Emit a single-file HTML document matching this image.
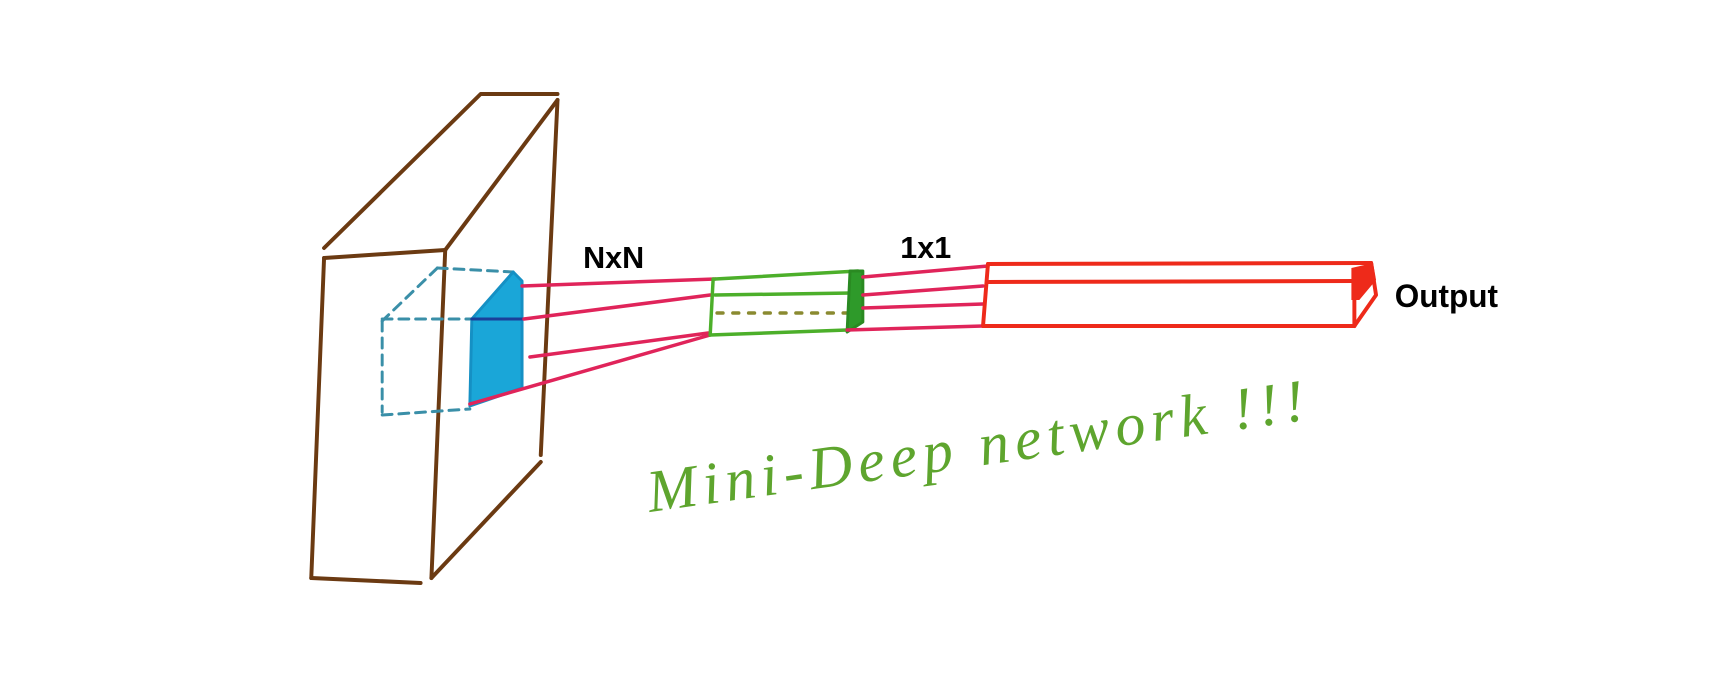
<!DOCTYPE html>
<html><head><meta charset="utf-8"><style>
html,body{margin:0;padding:0;background:#fff;}
svg{display:block}
</style></head><body>
<svg width="1719" height="692" viewBox="0 0 1719 692" xmlns="http://www.w3.org/2000/svg">
<g transform="scale(0.985,1)">
<g fill="none" stroke-linecap="round" stroke-linejoin="round">
<g stroke="#6b3a12" stroke-width="4">
<path d="M329,258 L452,250"/>
<path d="M329,258 L316,578"/>
<path d="M316,578 L427,583"/>
<path d="M452,250 L438,578"/>
<path d="M329,248 L488,94 L566,94"/>
<path d="M452,250 L566,100"/>
<path d="M566,100 L549,455"/>
<path d="M549,462 L438,578"/>
</g>
<g stroke="#3a8fa8" stroke-width="3" stroke-dasharray="10,7">
<path d="M444,268 L521,272"/>
<path d="M444,268 L388,321"/>
<path d="M388,321 L388,412"/>
<path d="M388,415 L477,409"/>
<path d="M388,319 L479,319"/>
</g>
<path d="M521,272 L530,281 L530,388 L477,406 L479,319 Z" fill="#1aa6d8" stroke="#1590c4" stroke-width="3"/>
<path d="M479,319 L530,319" stroke="#1a3f9a" stroke-width="3"/>
<g stroke="#e0245a" stroke-width="3.5">
<path d="M530,286 L726,279"/>
<path d="M532,319 L721,295"/>
<path d="M538,357 L719,333"/>
<path d="M477,404 L721,335"/>
</g>
<g stroke="#4caf2a" stroke-width="3.5">
<path d="M726,279 L871,271"/>
<path d="M726,295 L865,293"/>
<path d="M721,335 L860,330"/>
<path d="M724,279 L721,335"/>
<path d="M728,313 L862,313" stroke-dasharray="6,10" stroke="#8a8a30"/>
</g>
<path d="M863,271 L876,271 L876,322 L860,332 Z" fill="#2e9a2a" stroke="#2a8a22" stroke-width="3"/>
<g stroke="#e0245a" stroke-width="3.5">
<path d="M876,277 L1003,266"/>
<path d="M876,295 L998,286"/>
<path d="M876,308 L998,304"/>
<path d="M860,330 L998,326"/>
</g>
<g stroke="#ee2a1a" stroke-width="4">
<path d="M1003,264 L1392,263"/>
<path d="M1003,282 L1375,281"/>
<path d="M998,326 L1375,326"/>
<path d="M1003,264 L998,326"/>
<path d="M1375,270 L1375,326"/>
<path d="M1392,263 L1397,295 L1375,326"/>
</g>
<path d="M1372,268 L1394,263 L1397,280 L1380,300 L1372,300 Z" fill="#ee2a1a"/>
</g>
<g font-family="Liberation Sans, sans-serif" font-weight="bold" fill="#000">
<text x="592" y="268" font-size="31">NxN</text>
<text x="914" y="258" font-size="31">1x1</text>
<text x="1416" y="307" font-size="32">Output</text>
</g>
</g>
<text x="650" y="512" transform="rotate(-8 650 512)" font-family="Liberation Serif, serif" font-style="italic" font-size="60" fill="#5ea52e" letter-spacing="6">Mini-Deep network !!!</text>
</svg>
</body></html>
